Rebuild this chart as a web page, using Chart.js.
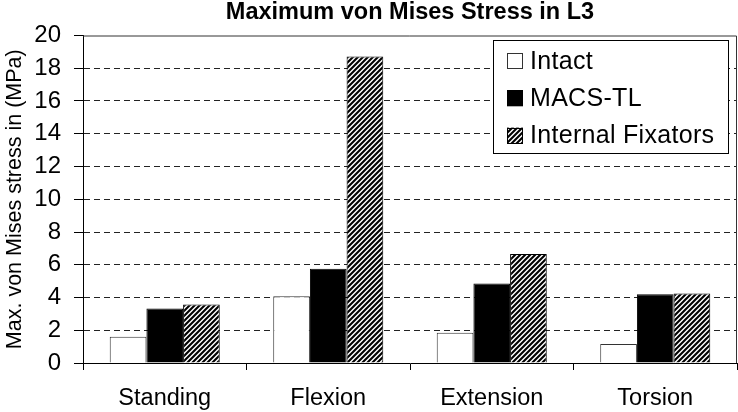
<!DOCTYPE html>
<html><head><meta charset="utf-8">
<script src="https://cdn.jsdelivr.net/npm/chart.js@4.4.1/dist/chart.umd.min.js"></script>
<style>html,body{margin:0;padding:0;background:#fff;}#wrap{width:738px;height:412px;}</style>
</head><body><div id="wrap"><canvas id="c" width="738" height="412"></canvas></div>
<script>
const categories = ['Standing', 'Flexion', 'Extension', 'Torsion'];
const seriesNames = ['Intact', 'MACS-TL', 'Internal Fixators'];
const intact = [1.6, 4.08, 1.85, 1.16];
const macsTL = [3.33, 5.75, 4.86, 4.2];
const internalFixators = [3.58, 18.72, 6.65, 4.25];
const yTicks = [0, 2, 4, 6, 8, 10, 12, 14, 16, 18, 20];
const chartTitle = 'Maximum von Mises Stress in L3';
const yAxisTitle = 'Max. von Mises stress in (MPa)';

const FONT = "'Liberation Sans', Arial, sans-serif";
const canvas = document.getElementById('c');
const ctx = canvas.getContext('2d');

function makeHatch() {
  const s = 5;
  const c = document.createElement('canvas');
  c.width = s; c.height = s;
  const x = c.getContext('2d');
  x.fillStyle = '#fff'; x.fillRect(0, 0, s, s);
  x.strokeStyle = '#000'; x.lineWidth = 2.1;
  x.beginPath();
  x.moveTo(0, s); x.lineTo(s, 0);
  x.moveTo(-1, 1); x.lineTo(1, -1);
  x.moveTo(s - 1, s + 1); x.lineTo(s + 1, s - 1);
  x.stroke();
  return ctx.createPattern(c, 'repeat');
}
const hatch = makeHatch();

const fills = ['#ffffff', '#000000', hatch];
const borders = ['#333333', '#000000', '#000000'];

const framePlugin = {
  id: 'frame',
  afterDraw(chart) {
    const a = chart.chartArea, g = chart.ctx;
    g.save();
    g.strokeStyle = '#333'; g.lineWidth = 1;
    g.beginPath();
    g.moveTo(a.left, a.top + 0.5); g.lineTo(a.right - 0.5, a.top + 0.5);
    g.lineTo(a.right - 0.5, a.bottom);
    g.stroke();
    g.restore();
  }
};

const legendPlugin = {
  id: 'boxLegend',
  afterDraw(chart) {
    const a = chart.chartArea, g = chart.ctx;
    const w = 235, h = 113;
    const bx = a.right - 9 - w, by = a.top + 4;
    g.save();
    g.fillStyle = '#fff';
    g.fillRect(bx, by, w, h);
    g.strokeStyle = '#000'; g.lineWidth = 1;
    g.strokeRect(Math.round(bx) + 0.5, Math.round(by) + 0.5, w, h);
    g.font = '25px ' + FONT;
    g.textBaseline = 'middle';
    g.textAlign = 'left';
    try { g.letterSpacing = '0.3px'; } catch (e) {}
    chart.data.datasets.forEach((ds, i) => {
      const cy = by + 21.5 + i * 37.3;
      const sx = bx + 14, sz = 16;
      g.fillStyle = fills[i];
      g.fillRect(sx, cy - sz / 2, sz, sz);
      g.strokeStyle = borders[i];
      g.strokeRect(Math.round(sx) + 0.5, Math.round(cy - sz / 2) + 0.5, sz - 1, sz - 1);
      g.fillStyle = '#000';
      g.fillText(ds.label, bx + 37, cy + 1);
    });
    g.restore();
  }
};

new Chart(ctx, {
  type: 'bar',
  data: {
    labels: categories,
    datasets: [
      { label: seriesNames[0], data: intact, backgroundColor: fills[0], borderColor: borders[0], borderWidth: 1 },
      { label: seriesNames[1], data: macsTL, backgroundColor: fills[1], borderColor: borders[1], borderWidth: 1 },
      { label: seriesNames[2], data: internalFixators, backgroundColor: fills[2], borderColor: borders[2], borderWidth: 1 }
    ]
  },
  options: {
    responsive: false,
    animation: false,
    devicePixelRatio: 1,
    layout: { padding: { left: 0, right: 1, top: 0, bottom: 0 } },
    datasets: { bar: { categoryPercentage: 0.673, barPercentage: 1 } },
    plugins: {
      legend: { display: false },
      tooltip: { enabled: false },
      title: {
        display: true, text: chartTitle, fullSize: false, color: '#000',
        font: { family: FONT, size: 23.5, weight: 'bold', lineHeight: 1 },
        padding: { top: 1, bottom: 11 }
      }
    },
    scales: {
      x: {
        grid: { display: true, drawOnChartArea: false, drawTicks: true, tickLength: 7, color: '#000', tickColor: '#000', offset: true },
        border: { display: true, color: '#000', width: 1 },
        ticks: { color: '#000', font: { family: FONT, size: 23.5 }, padding: 14, maxRotation: 0 },
        afterFit(s) { s.height = 49; }
      },
      y: {
        min: 0, max: 20,
        afterBuildTicks(s) { s.ticks = yTicks.map(v => ({ value: v })); },
        ticks: { color: '#000', font: { family: FONT, size: 24 }, padding: 13 },
        grid: {
          drawTicks: true, tickLength: 9, tickColor: '#000',
          color: c => (c.tick && (c.tick.value === 0 || c.tick.value === 20)) ? 'rgba(0,0,0,0)' : '#222'
        },
        border: { display: true, color: '#000', width: 1, dash: [6, 4] },
        title: { display: true, text: yAxisTitle, color: '#000', font: { family: FONT, size: 21.5 }, padding: { top: 2, bottom: 0 } },
        afterFit(s) { s.width = 83; }
      }
    }
  },
  plugins: [framePlugin, legendPlugin]
});
</script></body></html>
